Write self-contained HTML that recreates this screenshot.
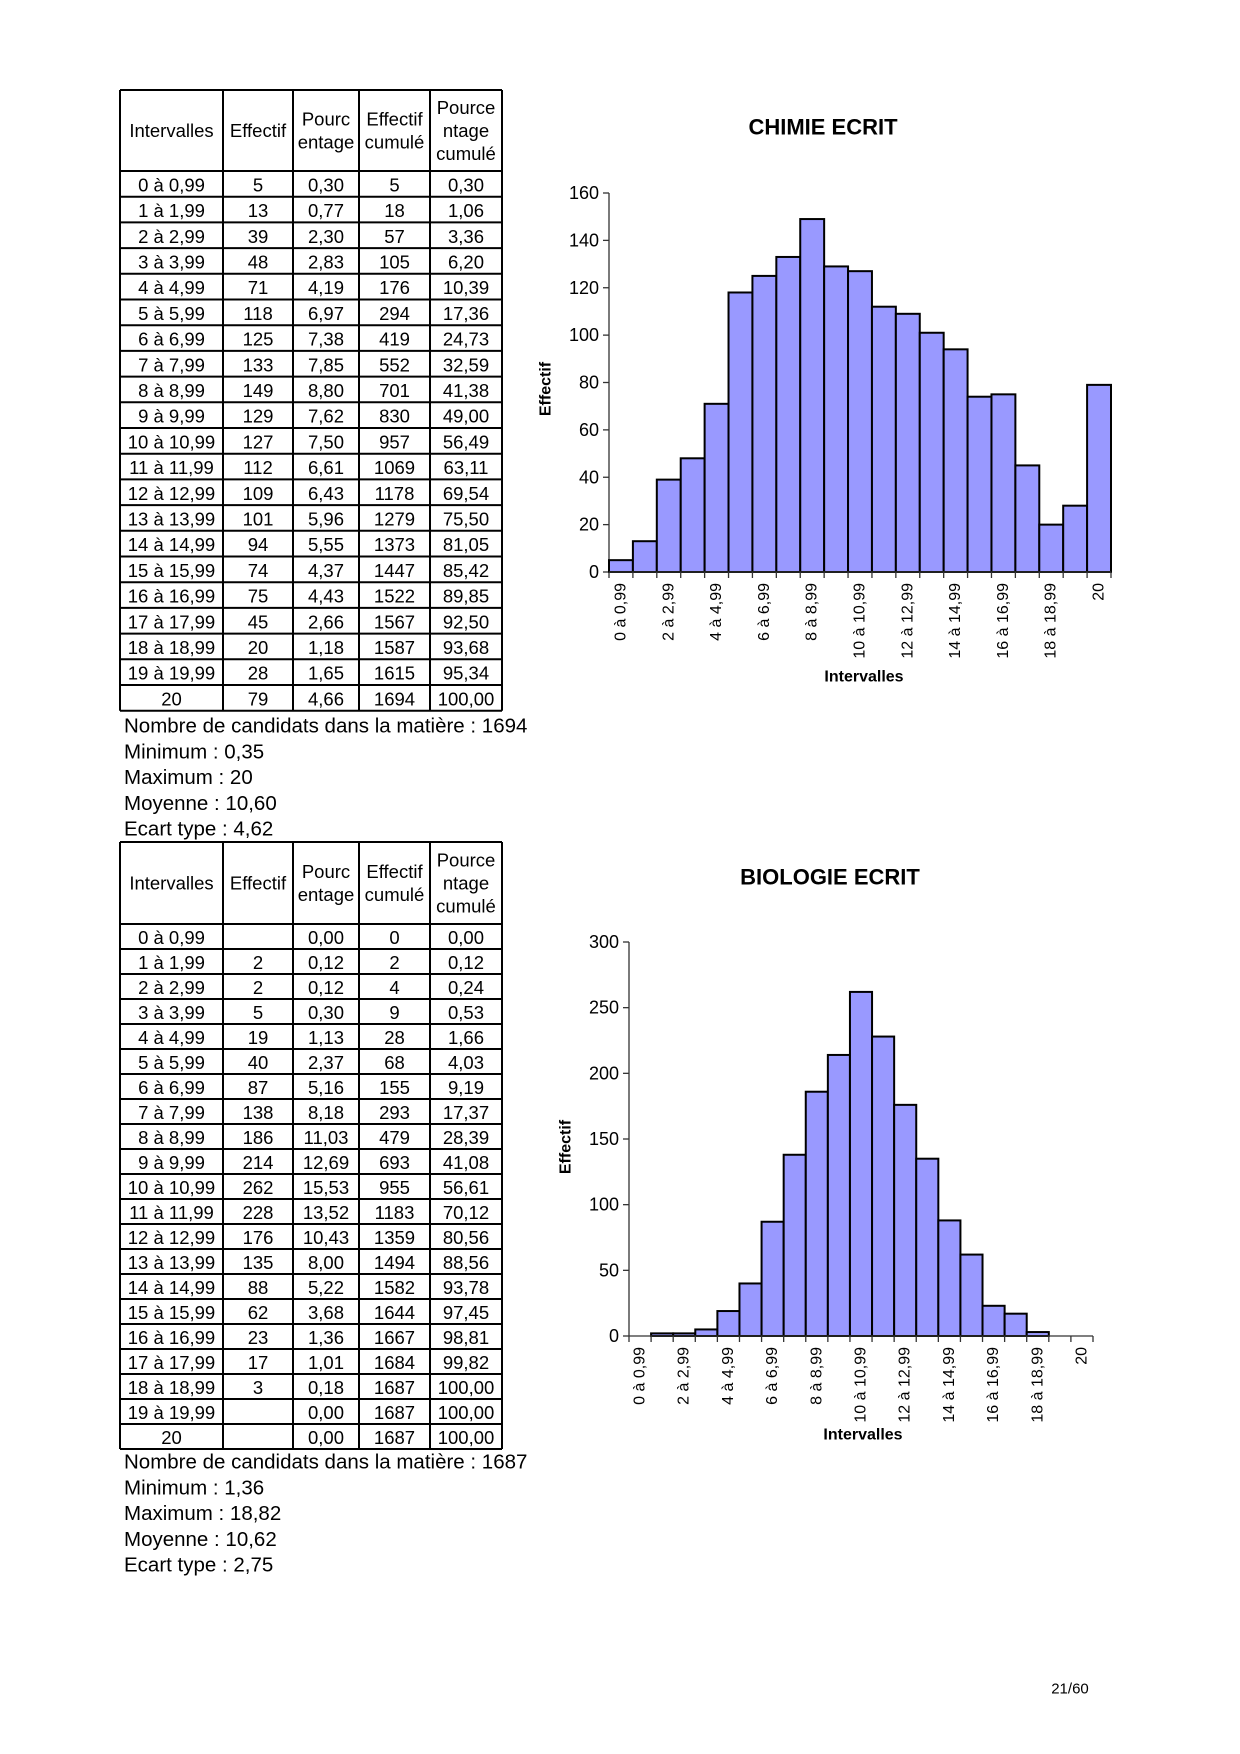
<!DOCTYPE html>
<html><head><meta charset="utf-8"><style>
html,body{margin:0;padding:0;background:#fff}
svg{display:block}
text{font-family:"Liberation Sans",Arial,sans-serif;fill:#000}
</style></head><body>
<svg id="s" width="1240" height="1754" xmlns="http://www.w3.org/2000/svg"></svg>
<script>
const S=document.getElementById('s');const NS='http://www.w3.org/2000/svg';
function el(t,a,txt){const e=document.createElementNS(NS,t);for(const k in a)e.setAttribute(k,a[k]);if(txt!==undefined)e.textContent=txt;S.appendChild(e);return e;}
function line(x1,y1,x2,y2,w,c){el('line',{x1,y1,x2,y2,stroke:c||'#000','stroke-width':w||2});}
function txt(x,y,s,o){o=o||{};const a={x,y,'font-size':o.fs||18.5,'text-anchor':o.a||'middle','dominant-baseline':'central'};if(o.b)a['font-weight']='bold';if(o.r)a.transform='rotate(-90 '+x+' '+y+')';el('text',a,s);}
const labels=[];for(let i=0;i<20;i++)labels.push(i+' à '+i+',99');labels.push('20');
const t1=[[5,'0,30',5,'0,30'],[13,'0,77',18,'1,06'],[39,'2,30',57,'3,36'],[48,'2,83',105,'6,20'],[71,'4,19',176,'10,39'],[118,'6,97',294,'17,36'],[125,'7,38',419,'24,73'],[133,'7,85',552,'32,59'],[149,'8,80',701,'41,38'],[129,'7,62',830,'49,00'],[127,'7,50',957,'56,49'],[112,'6,61',1069,'63,11'],[109,'6,43',1178,'69,54'],[101,'5,96',1279,'75,50'],[94,'5,55',1373,'81,05'],[74,'4,37',1447,'85,42'],[75,'4,43',1522,'89,85'],[45,'2,66',1567,'92,50'],[20,'1,18',1587,'93,68'],[28,'1,65',1615,'95,34'],[79,'4,66',1694,'100,00']];
const t2=[['','0,00',0,'0,00'],[2,'0,12',2,'0,12'],[2,'0,12',4,'0,24'],[5,'0,30',9,'0,53'],[19,'1,13',28,'1,66'],[40,'2,37',68,'4,03'],[87,'5,16',155,'9,19'],[138,'8,18',293,'17,37'],[186,'11,03',479,'28,39'],[214,'12,69',693,'41,08'],[262,'15,53',955,'56,61'],[228,'13,52',1183,'70,12'],[176,'10,43',1359,'80,56'],[135,'8,00',1494,'88,56'],[88,'5,22',1582,'93,78'],[62,'3,68',1644,'97,45'],[23,'1,36',1667,'98,81'],[17,'1,01',1684,'99,82'],[3,'0,18',1687,'100,00'],['','0,00',1687,'100,00'],['','0,00',1687,'100,00']];
const cols=[120,223,293,359,430,502];
function table(top,hb,rh,data,stats,sy){
  const bottom=hb+rh*21;
  cols.forEach(x=>line(x,top,x,bottom));
  line(120,top,502,top);line(120,hb,502,hb);
  for(let i=1;i<=21;i++)line(120,hb+rh*i,502,hb+rh*i);
  const m=(top+hb)/2;const c=i=>(cols[i]+cols[i+1])/2;
  txt(c(0),m,'Intervalles');txt(c(1),m,'Effectif');
  txt(c(2),m-11.5,'Pourc');txt(c(2),m+11.5,'entage');
  txt(c(3),m-11.5,'Effectif');txt(c(3),m+11.5,'cumulé');
  txt(c(4),m-23,'Pource');txt(c(4),m,'ntage');txt(c(4),m+23,'cumulé');
  data.forEach((r,i)=>{const y=hb+rh*i+rh/2+1;txt(c(0),y,labels[i]);for(let j=0;j<4;j++)txt(c(j+1),y,String(r[j]));});
  stats.forEach((s,i)=>txt(124,sy+25.8*i,s,{a:'start',fs:20.5}));
}
table(90,171,25.7,t1,['Nombre de candidats dans la matière : 1694','Minimum : 0,35','Maximum : 20','Moyenne : 10,60','Ecart type : 4,62'],726);
table(842,924,25.0,t2,['Nombre de candidats dans la matière : 1687','Minimum : 1,36','Maximum : 18,82','Moyenne : 10,62','Ecart type : 2,75'],1462);
function chart(o){
  const {x0,x1,y0,ytop,max,step,vals,title,tx,ty,ex,ey,ix,iy}=o;
  const bw=(x1-x0)/21,k=(y0-ytop)/max;
  txt(tx,ty,title,{b:1,fs:22});
  line(x0,ytop,x0,y0,1.3,'#333');
  for(let v=0;v<=max;v+=step){const y=y0-v*k;line(x0-6,y,x0,y,1.3,'#333');txt(x0-10,y,String(v),{a:'end',fs:18});}
  vals.forEach((v,i)=>{if(v>0)el('rect',{x:x0+i*bw,y:y0-v*k,width:bw,height:v*k,fill:'#9999ff',stroke:'#000','stroke-width':2});});
  line(x0,y0,x1,y0,1.3,'#333');
  for(let i=0;i<=21;i++)line(x0+i*bw,y0,x0+i*bw,y0+6,1.3,'#333');
  for(let i=0;i<21;i++){if(i%2==0||i==20)txt(x0+(i+0.5)*bw,y0+11,labels[i],{r:1,a:'end',fs:16});}
  txt(ex,ey,'Effectif',{b:1,r:1,fs:16});
  txt(ix,iy,'Intervalles',{b:1,fs:16});
}
chart({x0:609,x1:1111,y0:572,ytop:193,max:160,step:20,vals:t1.map(r=>r[0]),title:'CHIMIE ECRIT',tx:823,ty:127,ex:546,ey:389,ix:864,iy:677});
chart({x0:629,x1:1093,y0:1336,ytop:942,max:300,step:50,vals:t2.map(r=>r[0]===''?0:r[0]),title:'BIOLOGIE ECRIT',tx:830,ty:877,ex:566,ey:1147,ix:863,iy:1435});
txt(1070,1689,'21/60',{fs:15});
</script>
</body></html>
